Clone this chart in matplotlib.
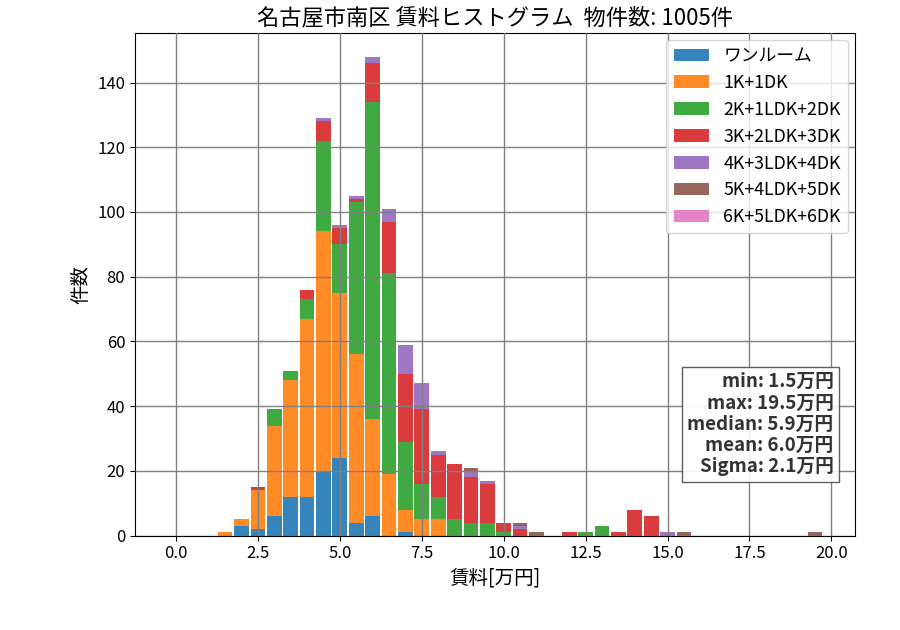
import matplotlib
matplotlib.use('Agg')
import matplotlib.pyplot as plt
import numpy as np

plt.rcParams['font.family'] = ['Noto Sans CJK JP', 'DejaVu Sans']
plt.rcParams['font.size'] = 12

# bin centers: 0.0, 0.5, ... 19.5 (万円), bin width 0.5
bin_width = 0.5
bin_centers = np.arange(40) * bin_width

labels = ['ワンルーム', '1K+1DK', '2K+1LDK+2DK', '3K+2LDK+3DK',
          '4K+3LDK+4DK', '5K+4LDK+5DK', '6K+5LDK+6DK']

one_room = [0, 0, 0, 0, 3, 2, 6, 12, 12, 20,
            24, 4, 6, 0, 1, 0, 0, 0, 0, 0,
            0, 0, 0, 0, 0, 0, 0, 0, 0, 0,
            0, 0, 0, 0, 0, 0, 0, 0, 0, 0]
k1 = [0, 0, 0, 1, 2, 12, 28, 36, 55, 74,
      51, 52, 30, 19, 7, 5, 5, 0, 0, 0,
      0, 0, 0, 0, 0, 0, 0, 0, 0, 0,
      0, 0, 0, 0, 0, 0, 0, 0, 0, 0]
k2 = [0, 0, 0, 0, 0, 0, 5, 3, 6, 28,
      15, 47, 98, 62, 21, 11, 7, 5, 4, 4,
      1, 0, 0, 0, 0, 1, 3, 0, 0, 0,
      0, 0, 0, 0, 0, 0, 0, 0, 0, 0]
k3 = [0, 0, 0, 0, 0, 1, 0, 0, 3, 6,
      5, 1, 12, 16, 21, 23, 13, 17, 14, 12,
      3, 2, 0, 0, 1, 0, 0, 1, 8, 6,
      0, 0, 0, 0, 0, 0, 0, 0, 0, 0]
k4 = [0, 0, 0, 0, 0, 0, 0, 0, 0, 1,
      1, 1, 2, 4, 9, 8, 1, 0, 2, 1,
      0, 1, 0, 0, 0, 0, 0, 0, 0, 0,
      1, 0, 0, 0, 0, 0, 0, 0, 0, 0]
k5 = [0, 0, 0, 0, 0, 0, 0, 0, 0, 0,
      0, 0, 0, 0, 0, 0, 0, 0, 1, 0,
      0, 1, 1, 0, 0, 0, 0, 0, 0, 0,
      0, 1, 0, 0, 0, 0, 0, 0, 0, 1]
k6 = [0] * 40

series = [one_room, k1, k2, k3, k4, k5, k6]
colors = ['tab:blue', 'tab:orange', 'tab:green', 'tab:red',
          'tab:purple', 'tab:brown', 'tab:pink']

total_count = 1005
stats = {'min': 1.5, 'max': 19.5, 'median': 5.9, 'mean': 6.0, 'Sigma': 2.1}

fig, ax = plt.subplots(figsize=(9, 6.3), dpi=100)
fig.subplots_adjust(left=0.15, right=0.95, bottom=0.15, top=0.948)

bottom = np.zeros(len(bin_centers))
for vals, lab, col in zip(series, labels, colors):
    vals = np.array(vals)
    ax.bar(bin_centers, vals, width=bin_width * 0.9, bottom=bottom,
           color=col, alpha=0.9, label=lab)
    bottom += vals

ax.set_xlim(-1.25, 20.72)
ax.set_ylim(0, bottom.max() * 1.05)
ax.set_xticks(np.arange(0, 20.1, 2.5))
ax.set_yticks(np.arange(0, 141, 20))
ax.grid(True, color='gray', linewidth=1)
ax.set_axisbelow(False)

ax.set_title('名古屋市南区 賃料ヒストグラム  物件数: %d件' % total_count, fontsize=16)
ax.set_xlabel('賃料[万円]', fontsize=14)
ax.set_ylabel('件数', fontsize=14)
ax.legend(loc='upper right', fontsize=12.8, borderaxespad=0.4)

txt = '\n'.join('%s: %.1f万円' % (k, v) for k, v in stats.items())
ax.text(0.97, 0.118, txt, transform=ax.transAxes, ha='right', va='bottom',
        multialignment='right', fontsize=13.5, fontweight='bold', color='0.2',
        linespacing=1.15,
        bbox=dict(boxstyle='square,pad=0.3', facecolor='white', edgecolor='0.3', alpha=0.9))

plt.savefig('out.png')
